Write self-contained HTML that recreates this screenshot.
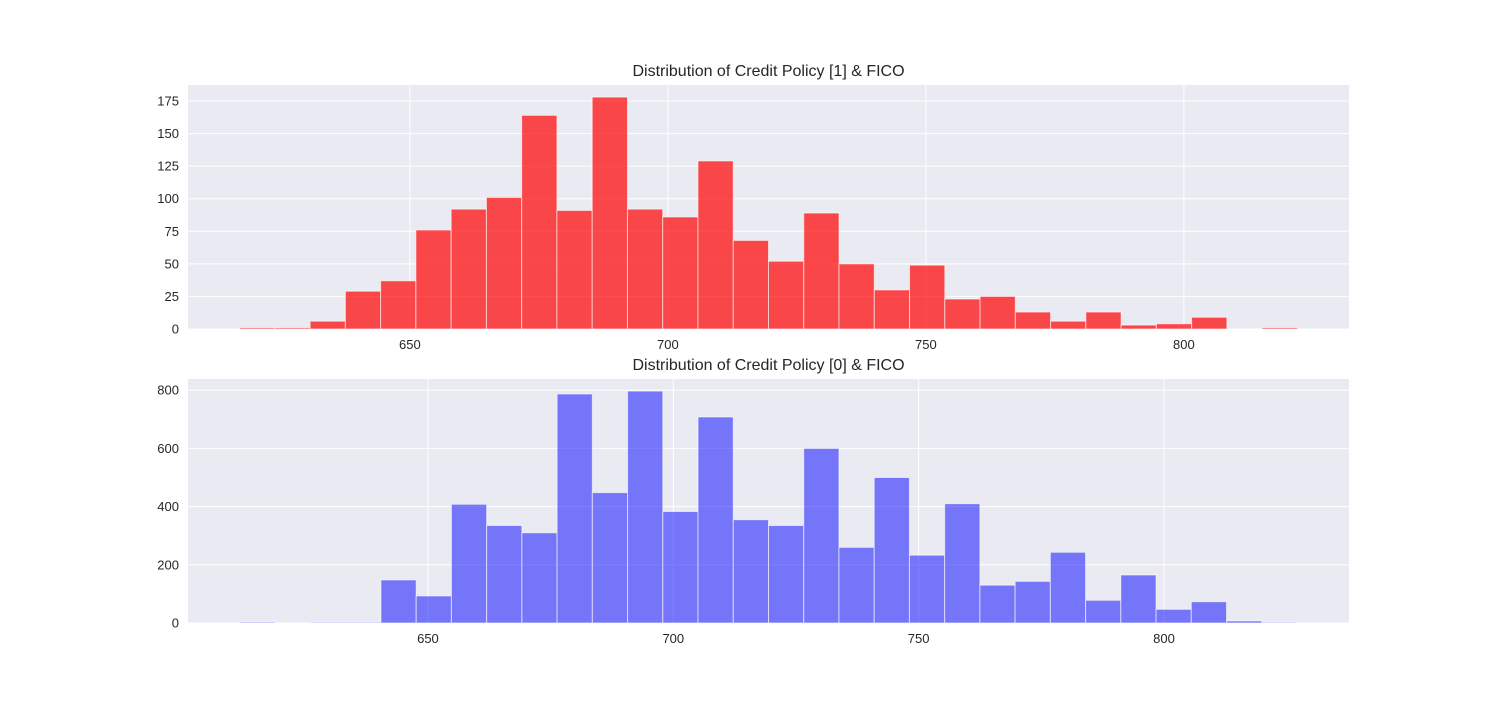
<!DOCTYPE html>
<html><head><meta charset="utf-8"><style>
body{margin:0;background:#fff;}
text{font-family:"Liberation Sans","DejaVu Sans",sans-serif;fill:#262626;}
</style></head><body>
<svg id="chart" width="1500" height="700" xmlns="http://www.w3.org/2000/svg"></svg>
<script>
const topCounts=[1,1,6,29,37,76,92,101,164,91,178,92,86,129,68,52,89,50,30,49,23,25,13,6,13,3,4,9,0,1];
const topRange=[617,822];
const botCounts=[3,0,2,2,148,93,408,335,310,787,448,797,383,708,355,335,600,260,500,233,410,130,143,243,78,165,47,73,7,2];
const botRange=[611.7,827.1];
const xTicks=[650,700,750,800];
const topYTicks=[0,25,50,75,100,125,150,175];
const botYTicks=[0,200,400,600,800];
const svg=document.getElementById('chart');
const NS='http://www.w3.org/2000/svg';
function mk(tag,attrs){const e=document.createElementNS(NS,tag);for(const k in attrs)e.setAttribute(k,attrs[k]);svg.appendChild(e);return e;}
function panel(o){
  const x=v=>o.x0+(v-o.xmin)/(o.xmax-o.xmin)*(o.x1-o.x0);
  const y=v=>o.y1-(v-o.ymin)/(o.ymax-o.ymin)*(o.y1-o.y0);
  const bg=mk('rect',{x:o.x0,y:o.y0,width:o.x1-o.x0,height:o.y1-o.y0,fill:'#EAEAF2'});
  
  
  o.yTicks.forEach(t=>{
    const l=mk('line',{x1:o.x0,x2:o.x1,y1:y(t),y2:y(t),stroke:'#fff','stroke-width':1});
    
    
    const tx=mk('text',{x:o.x0-9,y:y(t)+4.5,'text-anchor':'end','font-size':13});
    tx.textContent=t;
    
    
  });
  xTicks.forEach(t=>{
    const l=mk('line',{x1:x(t),x2:x(t),y1:o.y0,y2:o.y1,stroke:'#fff','stroke-width':1});
    
    
    const tx=mk('text',{x:x(t),y:o.y1+20,'text-anchor':'middle','font-size':13});
    tx.textContent=t;
    
    
  });
  const n=o.counts.length,w=(o.range[1]-o.range[0])/n;
  o.counts.forEach((c,i)=>{
    const a=o.range[0]+i*w;
    const r=mk('rect',{x:x(a),y:y(c),width:x(a+w)-x(a),height:y(0)-y(c),fill:o.color,'fill-opacity':o.alpha,stroke:'#fff','stroke-opacity':0.6,'stroke-width':1});
    
    
  });
  const t=mk('text',{x:(o.x0+o.x1)/2,y:o.y0-9,'text-anchor':'middle','font-size':16});
  t.textContent=o.title;
  
  
}
panel({name:'credit-policy-1',x0:188,x1:1349,y0:85,y1:329,xmin:607,xmax:832,ymin:0,ymax:187.3,yTicks:topYTicks,counts:topCounts,range:topRange,color:'#ff0000',alpha:0.7,title:'Distribution of Credit Policy [1] & FICO'});
panel({name:'credit-policy-0',x0:188,x1:1349,y0:379,y1:623,xmin:601.1,xmax:837.7,ymin:0,ymax:838.5,yTicks:botYTicks,counts:botCounts,range:botRange,color:'#0000ff',alpha:0.5,title:'Distribution of Credit Policy [0] & FICO'});
</script>
</body></html>
